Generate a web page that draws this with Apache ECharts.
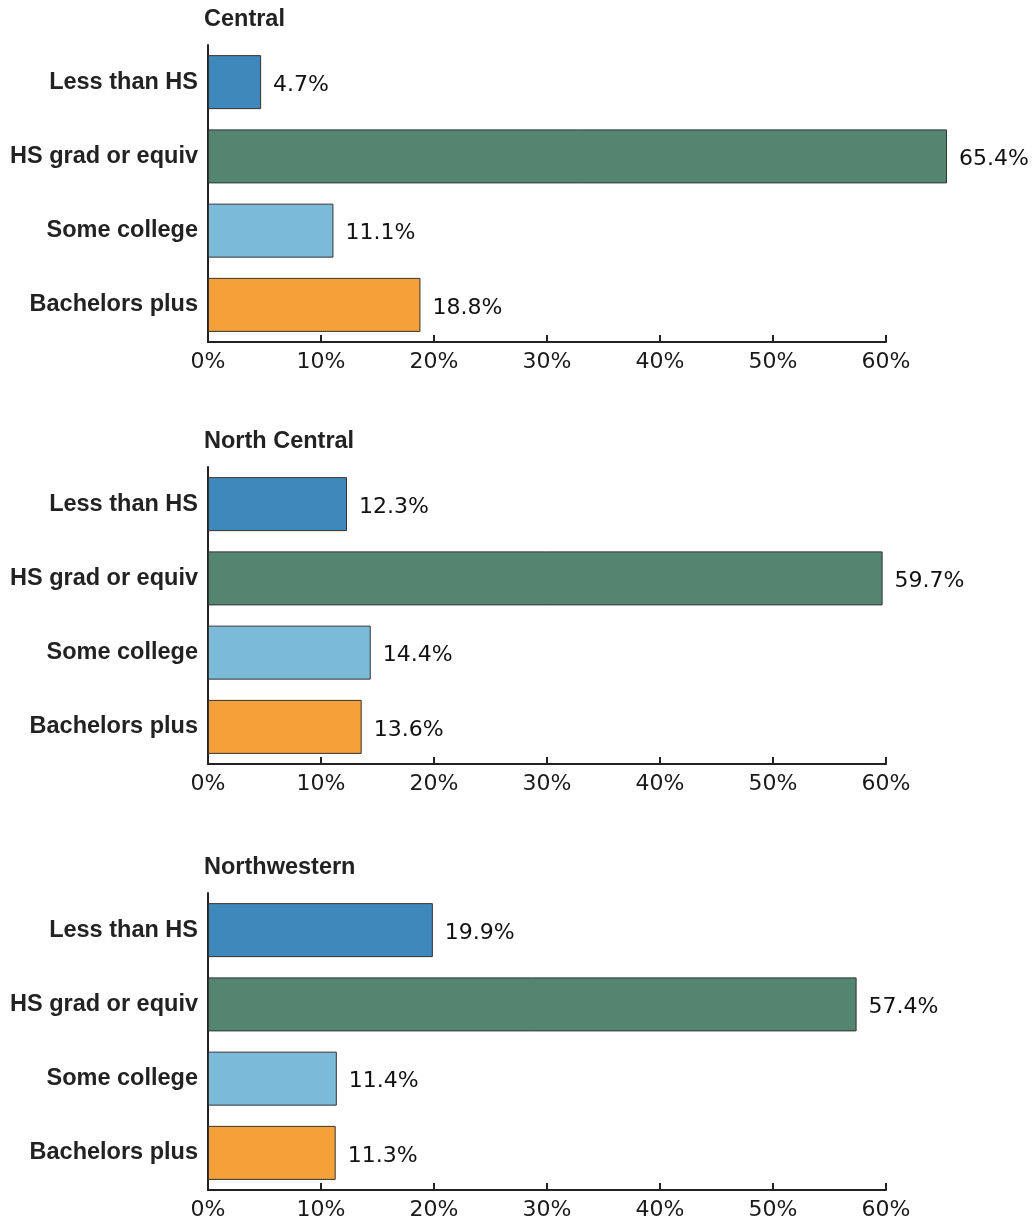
<!DOCTYPE html>
<html>
<head>
<meta charset="utf-8">
<script src="https://cdn.jsdelivr.net/npm/echarts@6/dist/echarts.min.js"></script>
<style>
html, body { margin: 0; padding: 0; background: #fff; }
#chart { width: 1032px; height: 1222px; }
</style>
</head>
<body>
<div id="chart"></div>
<script>
const regions = ['Central', 'North Central', 'Northwestern']
const categories = ['Less than HS', 'HS grad or equiv', 'Some college', 'Bachelors plus']
const centralValues = [4.7, 65.4, 11.1, 18.8]
const northCentralValues = [12.3, 59.7, 14.4, 13.6]
const northwesternValues = [19.9, 57.4, 11.4, 11.3]
const xTicks = [0, 10, 20, 30, 40, 50, 60]

const seriesValues = [centralValues, northCentralValues, northwesternValues]
const barColors = ['#3f88bc', '#538570', '#7bbad8', '#f6a03a']
const textFont = 'Liberation Sans, Arial, sans-serif'
const numFont = 'DejaVu Sans, sans-serif'
const panelOffsets = [0, 422, 848]

const chart = echarts.init(document.getElementById('chart'))

const grids = panelOffsets.map(off => ({
    left: 208, right: 146, top: 45 + off, height: 297
}))

const titles = regions.map((name, i) => ({
    text: name,
    left: 204,
    top: 8 + panelOffsets[i],
    padding: 0,
    textStyle: { fontFamily: textFont, fontSize: 23.5, fontWeight: 'bold', color: '#222' }
}))

const xAxes = regions.map((_, i) => ({
    type: 'value',
    gridIndex: i,
    min: xTicks[0],
    max: xTicks[xTicks.length - 1],
    interval: 10,
    axisLine: { show: true, lineStyle: { color: '#222', width: 2 } },
    axisTick: { show: true, inside: true, length: 7, lineStyle: { color: '#222', width: 2 } },
    splitLine: { show: false },
    axisLabel: {
        formatter: '{value}%', margin: 9,
        fontFamily: numFont, fontSize: 22, color: '#1a1a1a'
    }
}))

const yAxes = regions.map((_, i) => ({
    type: 'category',
    gridIndex: i,
    data: categories,
    inverse: true,
    axisLine: { show: true, lineStyle: { color: '#222', width: 2 } },
    axisTick: { show: false },
    axisLabel: {
        margin: 10, padding: [4, 0, 0, 0],
        fontFamily: textFont, fontSize: 23.5, fontWeight: 'bold', color: '#222'
    }
}))

const series = seriesValues.map((vals, i) => ({
    type: 'bar',
    xAxisIndex: i,
    yAxisIndex: i,
    barWidth: 54,
    clip: false,
    data: vals.map((v, j) => ({
        value: v,
        itemStyle: { color: barColors[j], borderColor: '#333', borderWidth: 1 }
    })),
    label: {
        show: true,
        position: 'right',
        distance: 12,
        offset: [0, 3],
        formatter: p => p.value.toFixed(1) + '%',
        fontFamily: numFont, fontSize: 22, color: '#111'
    }
}))

chart.setOption({
    animation: false,
    title: titles,
    grid: grids,
    xAxis: xAxes,
    yAxis: yAxes,
    series: series
})
</script>
</body>
</html>
